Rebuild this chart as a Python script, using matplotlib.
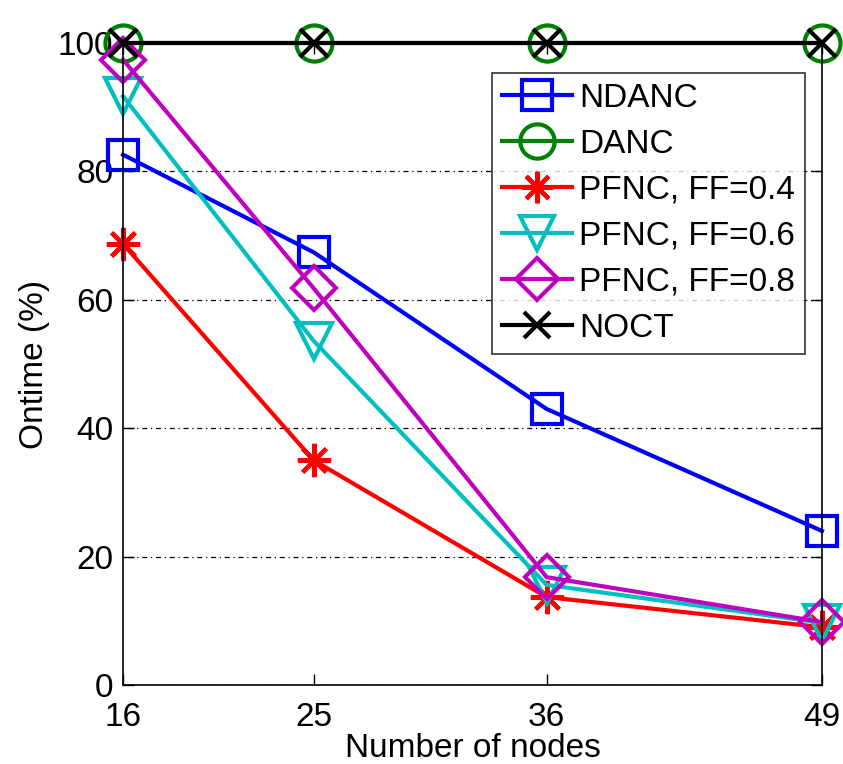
import matplotlib
matplotlib.use("Agg")
import matplotlib.pyplot as plt
from matplotlib import font_manager

nodes = [16, 25, 36, 49]
ndanc = [82.6, 67.4, 43.0, 24.0]
danc = [100, 100, 100, 100]
pfnc_04 = [68.7, 35.0, 13.7, 9.0]
pfnc_06 = [91.7, 53.6, 15.6, 9.7]
pfnc_08 = [97.4, 61.8, 16.8, 9.8]
noct = [100, 100, 100, 100]

names = {f.name for f in font_manager.fontManager.ttflist}
fam = "Liberation Sans Narrow" if "Liberation Sans Narrow" in names else "Liberation Sans"
plt.rcParams["font.family"] = [fam, "DejaVu Sans"]

fig = plt.figure(figsize=(8.43, 7.64), dpi=100)
ax = fig.add_axes([0.146, 0.1034, 0.829, 0.8403])

# (values, label, colour, marker, size)
series = [
    (ndanc, "NDANC", "blue", "s", 22),
    (danc, "DANC", "green", "o", 26),
    (pfnc_04, "PFNC, FF=0.4", "red", (8, 2, 0), 24),
    (pfnc_06, "PFNC, FF=0.6", "#00BFBF", "v", 26),
    (pfnc_08, "PFNC, FF=0.8", "#BF00BF", "D", 22),
    (noct, "NOCT", "black", "x", 20),
]

for vals, label, color, marker, ms in series:
    ax.plot(nodes, vals, color=color, linewidth=3, marker=marker,
            markersize=ms, markerfacecolor="none", markeredgecolor=color,
            markeredgewidth=3, label=label, clip_on=False)

ax.set_xlim(16, 49)
ax.set_ylim(0, 100)
ax.set_xticks(nodes)
ax.set_yticks([0, 20, 40, 60, 80, 100])
ax.tick_params(direction="in", labelsize=24, length=8, width=1, top=True, right=True)
ax.tick_params(axis="x", pad=12)
ax.tick_params(axis="y", pad=7)
ax.yaxis.grid(True, color="black", linestyle=(0, (1, 3, 4, 3)), linewidth=0.9)
ax.set_axisbelow(True)
for s in ax.spines.values():
    s.set_linewidth(1.2)

ax.set_xlabel("Number of nodes", fontsize=24, labelpad=0)
ax.set_ylabel("Ontime (%)", fontsize=24, labelpad=6)

leg = ax.legend(loc="upper right", bbox_to_anchor=(0.99, 0.969), fontsize=24,
                frameon=True, fancybox=False, edgecolor="black",
                handlelength=2.1, handletextpad=0.2, borderpad=0.3,
                labelspacing=0.45, borderaxespad=0.3, markerscale=0.95)
leg.get_frame().set_linewidth(1.2)

fig.savefig("out.png", dpi=100)
